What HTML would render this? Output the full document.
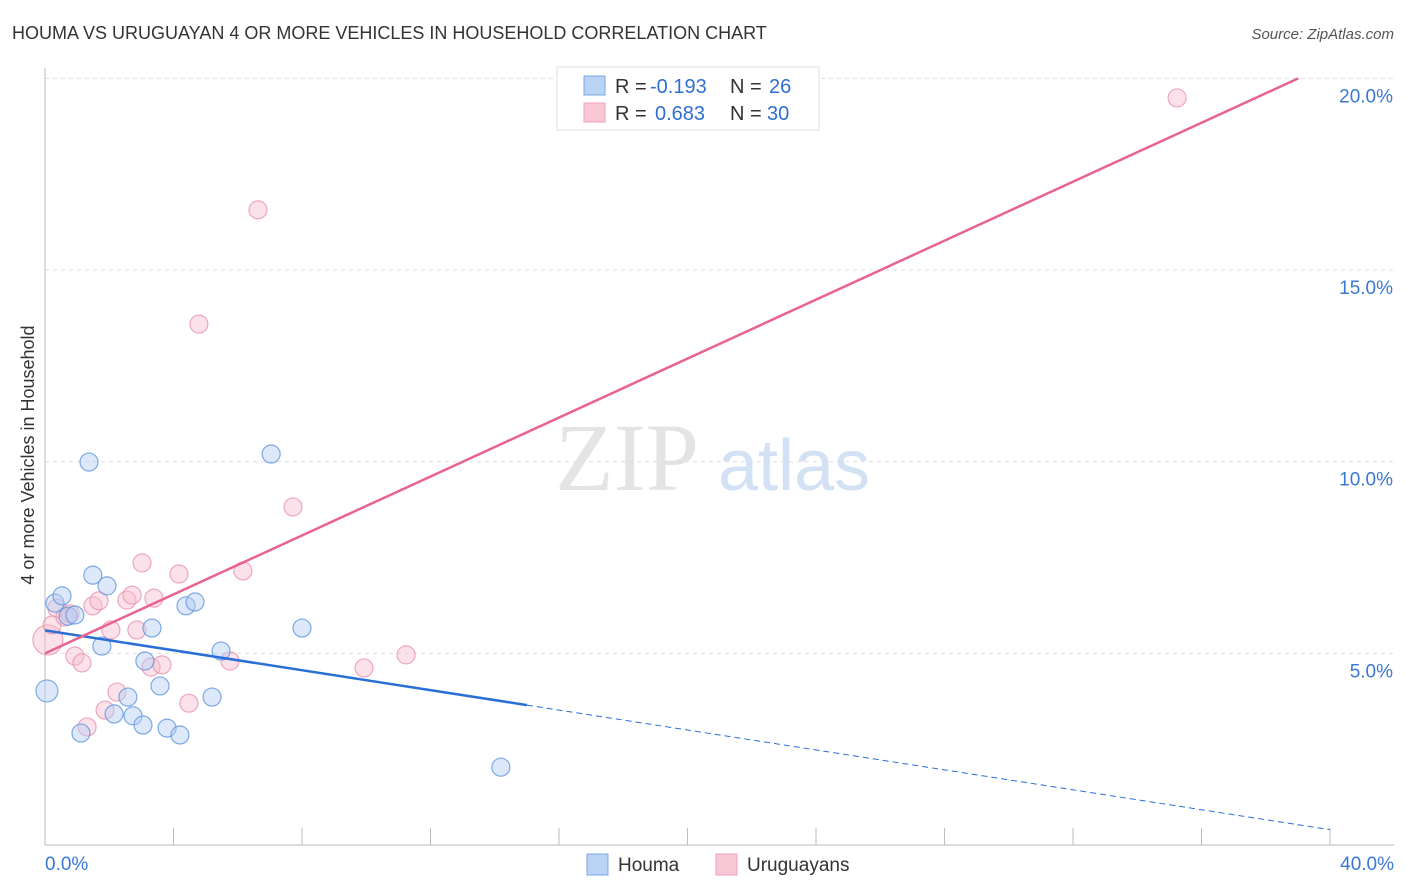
<!DOCTYPE html>
<html><head><meta charset="utf-8"><style>
body{margin:0;background:#fff;font-family:"Liberation Sans",sans-serif;}
svg{display:block}
</style></head><body>
<svg id="c" width="1406" height="892">
<text x="12" y="39" font-size="18" fill="#333">HOUMA VS URUGUAYAN 4 OR MORE VEHICLES IN HOUSEHOLD CORRELATION CHART</text>
<text x="1394" y="39" font-size="15" fill="#555" font-style="italic" text-anchor="end">Source: ZipAtlas.com</text>
<text x="555" y="490" font-size="96" fill="#e4e4e4" font-family="Liberation Serif">ZIP</text>
<text x="718" y="490" font-size="72" fill="#d3e1f5">atlas</text>
<text transform="translate(34,455) rotate(-90)" font-size="18" fill="#333" text-anchor="middle">4 or more Vehicles in Household</text>
<g id="grid"></g><g id="pts"></g><g id="lines"></g>
<g>
<rect x="557" y="67" width="262" height="63" fill="#fff" stroke="#ddd"/>
<rect x="584" y="76" width="21" height="19" fill="#b9d3f5" stroke="#7aa7e6"/>
<rect x="584" y="103" width="21" height="19" fill="#f9c8d6" stroke="#eea2b8"/>
<text x="615" y="93" font-size="20" fill="#333">R = <tspan fill="#2f6fd0" x="650">-0.193</tspan><tspan x="730">N = </tspan><tspan fill="#2f6fd0" x="769">26</tspan></text>
<text x="615" y="120" font-size="20" fill="#333">R = <tspan fill="#2f6fd0" x="655">0.683</tspan><tspan x="730">N = </tspan><tspan fill="#2f6fd0" x="767">30</tspan></text>
</g>
<g>
<rect x="587" y="854" width="21" height="21" fill="#b9d3f5" stroke="#7aa7e6"/>
<text x="618" y="871" font-size="19" fill="#333">Houma</text>
<rect x="716" y="854" width="21" height="21" fill="#f9c8d6" stroke="#eea2b8"/>
<text x="747" y="871" font-size="19" fill="#333">Uruguayans</text>
</g>
</svg>
<script>
const xTicks=[0,4,8,12,16,20,24,28,32,36,40];
const yTicks=[5,10,15,20];
const houmaX=[0.06,0.31,0.53,0.72,0.93,1.37,1.49,1.77,1.93,1.12,2.15,2.58,2.74,3.05,3.11,3.33,3.58,3.80,4.20,4.39,4.67,5.20,5.48,7.04,8.00,14.19];
const houmaY=[4.02,6.31,6.50,5.97,6.00,9.99,7.04,5.19,6.76,2.92,3.42,3.86,3.37,3.13,4.80,5.66,4.15,3.05,2.87,6.24,6.34,3.86,5.06,10.20,5.66,2.03];
const uruX=[0.09,0.22,0.37,0.62,0.78,0.93,1.15,1.31,1.49,1.68,1.87,2.05,2.24,2.55,2.71,2.86,3.02,3.30,3.39,3.64,4.17,4.48,4.79,5.76,6.16,6.63,7.72,9.93,11.24,35.24];
const uruY=[5.35,5.74,6.18,5.95,6.03,4.93,4.75,3.08,6.24,6.37,3.52,5.61,3.99,6.39,6.52,5.61,7.36,4.64,6.44,4.70,7.07,3.70,13.59,4.80,7.15,16.57,8.82,4.62,4.96,19.49];
const houmaLine=[5.6,0.4];
const uruLine=[5.0,20.38];
const X=v=>45+v*32.125, Y=v=>845-v*38.33;
const NS="http://www.w3.org/2000/svg";
function mk(t,a,p){const e=document.createElementNS(NS,t);for(const k in a)e.setAttribute(k,a[k]);p.appendChild(e);return e;}
const grid=document.getElementById('grid'),pts=document.getElementById('pts'),lines=document.getElementById('lines');
mk('line',{x1:45,y1:68,x2:45,y2:845,stroke:'#bbb'},grid);
mk('line',{x1:45,y1:845,x2:1394,y2:845,stroke:'#bbb'},grid);
yTicks.forEach(t=>{
 const l=mk('line',{x1:45,y1:Y(t),x2:1394,y2:Y(t),stroke:'#ddd','stroke-dasharray':'4,4'},grid);
 
 
 const tx=mk('text',{x:1393,y:Y(t)+24,'font-size':19,fill:'#3a78d4','text-anchor':'end'},grid);
 tx.textContent=t.toFixed(1)+'%';
 
 
});
xTicks.forEach(t=>{
 const l=mk('line',{x1:X(t),y1:828,x2:X(t),y2:845,stroke:'#bbb'},grid);
 
 
});
[[0,45,'start'],[40,1394,'end']].forEach(([t,x,a])=>{
 const tx=mk('text',{x:x,y:870,'font-size':19,fill:'#3a78d4','text-anchor':a},grid);
 tx.textContent=t.toFixed(1)+'%';
 
 
});
function dots(xs,ys,fill,stroke,name,big){xs.forEach((v,i)=>{
 const r=(v<0.15)?big:9;
 const c=mk('circle',{cx:X(v),cy:Y(ys[i]),r:r,fill:fill,'fill-opacity':0.45,stroke:stroke,'stroke-opacity':0.8,'stroke-width':1.2},pts);
 
 
});}
dots(uruX,uruY,'#f7bfd0','#eb93ae','uruguayan-point',15);
dots(houmaX,houmaY,'#b3cef3','#5f95e0','houma-point',11);
const hy=x=>houmaLine[0]+(houmaLine[1]-houmaLine[0])*x/40;
let l=mk('line',{x1:X(0),y1:Y(hy(0)),x2:X(15),y2:Y(hy(15)),stroke:'#2a6fd6','stroke-width':2.5},lines);


l=mk('line',{x1:X(15),y1:Y(hy(15)),x2:X(40),y2:Y(hy(40)),stroke:'#2a6fd6','stroke-width':1,'stroke-dasharray':'6,4'},lines);


const uy=x=>uruLine[0]+(uruLine[1]-uruLine[0])*x/40;
const xe=(20-uruLine[0])/(uruLine[1]-uruLine[0])*40;
l=mk('line',{x1:X(0),y1:Y(uy(0)),x2:X(xe),y2:Y(uy(xe)),stroke:'#e8638d','stroke-width':2.5},lines);


</script>
</body></html>
